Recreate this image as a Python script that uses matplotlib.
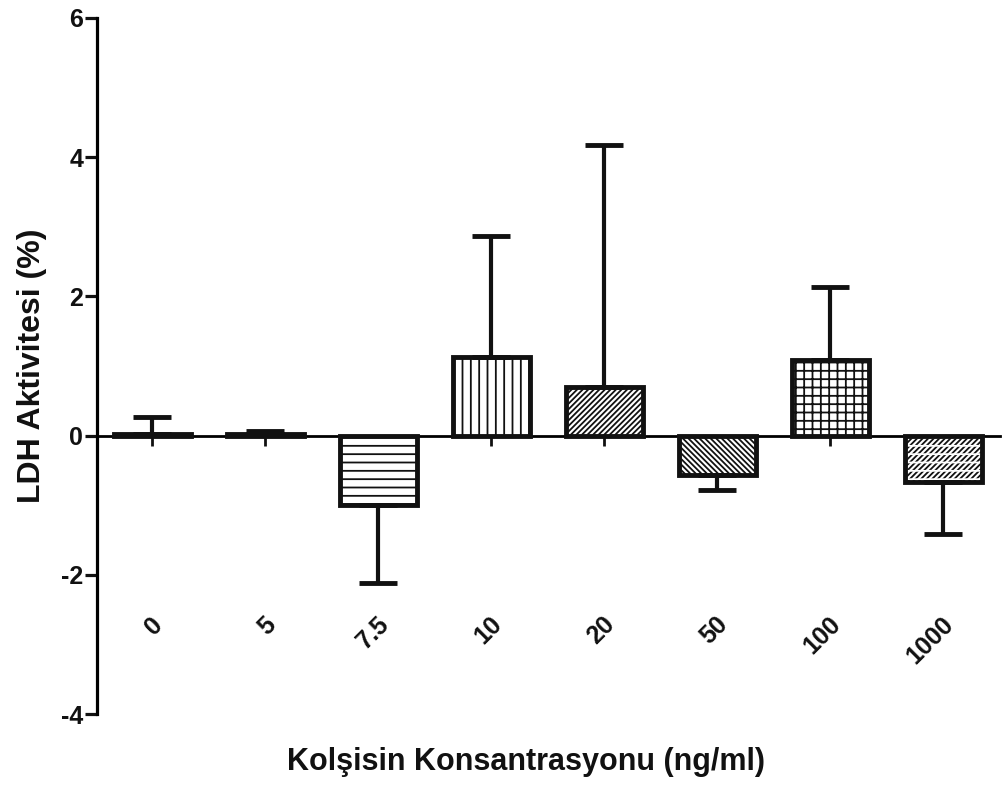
import numpy as np
import matplotlib
matplotlib.use('Agg')
import matplotlib.pyplot as plt

plt.rcParams['font.family'] = ['Liberation Sans', 'DejaVu Sans']
plt.rcParams['axes.unicode_minus'] = False
plt.rcParams['hatch.linewidth'] = 1.3

concentrations = ['0', '5', '7.5', '10', '20', '50', '100', '1000']
means = [0.02, 0.03, -1.0, 1.13, 0.70, -0.56, 1.08, -0.66]
errors = [0.25, 0.03, 1.12, 1.74, 3.47, 0.22, 1.05, 0.75]
hatches = ['', '', '--', '||', '//////', '\\\\\\\\\\\\', '++', '//////']
# white breaks drawn over the hatch of the last bar (brick-like pattern)
overlay = ['', '', '', '', '', '', '', '--']

fig = plt.figure(figsize=(10.04, 7.91), dpi=100)
ax = fig.add_axes([0.0966, 0.0973, 0.8994, 0.8800])

x = np.arange(len(concentrations))
for i in x:
    ax.bar(x[i], means[i], width=0.68, color='white', edgecolor='#111111',
           linewidth=0, hatch=hatches[i], zorder=2)
    if overlay[i]:
        ax.bar(x[i], means[i], width=0.68, color='none', edgecolor='white',
               linewidth=0, hatch=overlay[i], zorder=2.1)
    ax.bar(x[i], means[i], width=0.68, color='none', edgecolor='#111111',
           linewidth=3.5, zorder=2.2)
    # error bar only in the direction of the bar
    if means[i] >= 0:
        lo, hi = 0, errors[i]
    else:
        lo, hi = errors[i], 0
    ax.errorbar(x[i], means[i], yerr=[[lo], [hi]], fmt='none', ecolor='#111111',
                elinewidth=3, capsize=14, capthick=3.5, zorder=3)

ax.set_xlim(-0.49, 7.5)
ax.set_ylim(-4, 6)
ax.set_yticks([-4, -2, 0, 2, 4, 6])
ax.set_yticklabels(['-4', '-2', '0', '2', '4', '6'], fontsize=18, fontweight='bold')

ax.spines['top'].set_visible(False)
ax.spines['right'].set_visible(False)
ax.spines['left'].set_linewidth(2.3)
ax.spines['bottom'].set_position(('data', 0))
ax.spines['bottom'].set_linewidth(2)
ax.spines['bottom'].set_zorder(1)

ax.tick_params(axis='y', length=9, width=2.3, pad=1, colors='#111111')
ax.set_xticks(x)
ax.set_xticklabels([])
ax.tick_params(axis='x', length=7, width=2, direction='out', colors='#111111')

for i in x:
    ax.text(x[i] + 0.06, -2.66, concentrations[i], rotation=45, rotation_mode='anchor',
            ha='right', va='center', fontsize=18, fontweight='bold', color='#111111')

ax.set_ylabel('LDH Aktivitesi (%)', fontsize=23, fontweight='bold', labelpad=10,
              color='#111111')
fig.text(0.524, 0.018, 'Kolşisin Konsantrasyonu (ng/ml)', ha='center', va='bottom',
         fontsize=22, fontweight='bold', color='#111111')

fig.savefig('out.png', dpi=100)
